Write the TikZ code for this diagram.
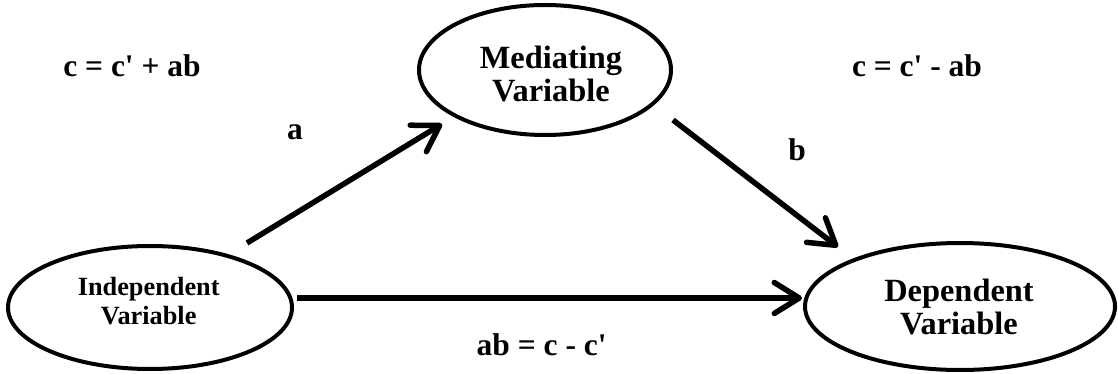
\documentclass[tikz,border=0pt]{standalone}
\usepackage{fontspec}
\setmainfont{Liberation Serif}
\newfontfamily\lblfont[Ligatures=TeXOff]{Liberation Serif}
\usetikzlibrary{arrows.meta,shapes.geometric}
\begin{document}
\begin{tikzpicture}[x=1pt,y=-1pt,
  var/.style={draw, line width=4pt, ellipse, inner sep=0pt},
  vtext/.style={inner sep=0pt, align=center},
  conn/.style={line width=5.5pt, line cap=butt,
    -{Straight Barb[length=25pt,width=31pt,line cap=round,line join=round]}},
  lbl/.style={font=\lblfont\bfseries\fontsize{31.5}{34}\selectfont, inner sep=0pt, anchor=base}]
\useasboundingbox (0,0) rectangle (1118,374);
% ellipses
\node[var, minimum width=252pt, minimum height=130pt] (med) at (545,70) {};
\node[var, minimum width=284pt, minimum height=123pt] (ind) at (150,307.5) {};
\node[var, minimum width=310pt, minimum height=127pt] (dep) at (960,306.5) {};
% texts
\node[vtext, font=\bfseries\fontsize{32.4}{33.4}\selectfont] (medtxt) at (551,73.8) {Mediating\\Variable};
\node[vtext, font=\bfseries\fontsize{26.3}{29}\selectfont] (indtxt) at (148.7,301.4) {Independent\\Variable};
\node[vtext, font=\bfseries\fontsize{32.4}{33.3}\selectfont] (deptxt) at (959,307.1) {Dependent\\Variable};
% connectors
\coordinate (a1) at (247,243);
\coordinate (a2) at (442,124);
\coordinate (b1) at (673,120);
\coordinate (b2) at (838,247);
\coordinate (c1) at (297,298);
\coordinate (c2) at (802,298);
\draw[conn] (a1) -- (a2);
\draw[conn] (b1) -- (b2);
\draw[conn] (c1) -- (c2);
% labels
\node[lbl] (l1) at (132,77) {c = c' + ab};
\node[lbl] (l2) at (917,77) {c = c' - ab};
\node[lbl] (l3) at (541.7,355) {ab = c - c'};
\node[lbl] (la) at (295,140) {a};
\node[lbl] (lb) at (797,161) {b};
\end{tikzpicture}
\end{document}
